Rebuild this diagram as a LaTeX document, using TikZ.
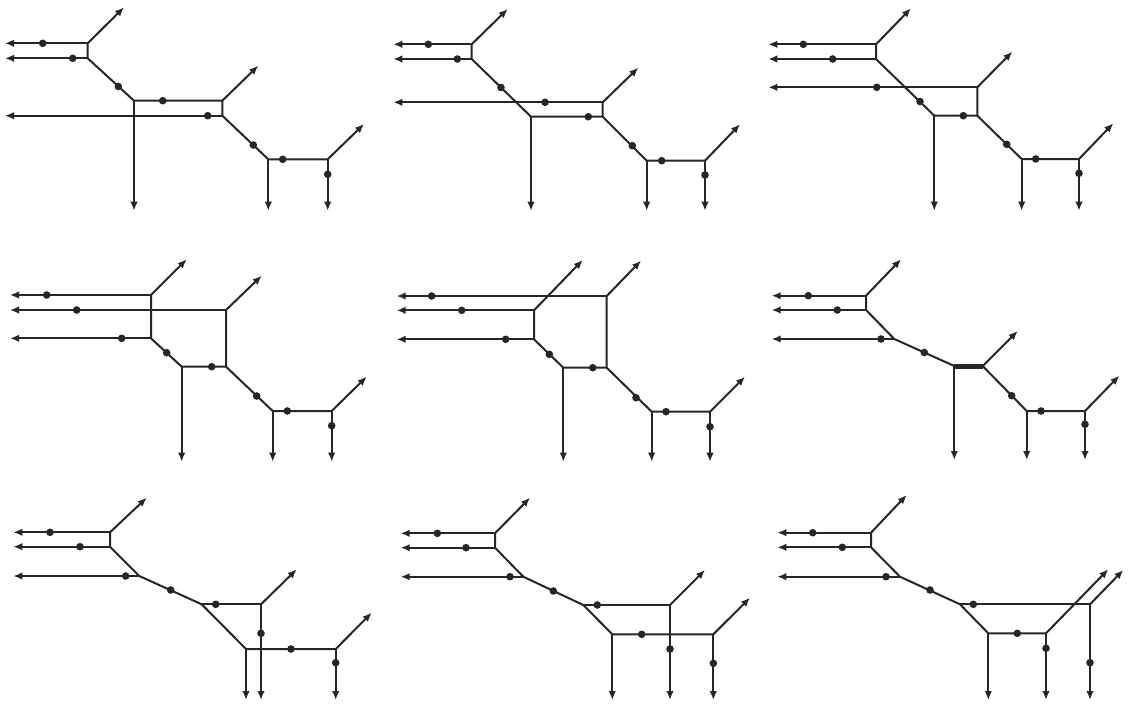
\documentclass[tikz,border=0pt]{standalone}
\usetikzlibrary{arrows.meta}
\begin{document}
\begin{tikzpicture}[x=1pt,y=-1pt,
  ln/.style={line width=2pt,draw=black!85,line join=miter},
  ar/.style={ln,-{Latex[length=9pt,width=7.5pt]}},
  dt/.style={circle,fill=black!85,inner sep=0pt,minimum size=7.6pt},
  thk/.style={line width=5pt,draw=black!85}]
\useasboundingbox[fill=white] (0,0) rectangle (1132,705);

% ---------- diagram 1 ----------
\begin{scope}[name prefix=a-]
\coordinate (A1) at (87.7,43.3); \coordinate (A2) at (87.7,58.3);
\coordinate (L1) at (5,43.3); \coordinate (L2) at (5,58.3); \coordinate (L3) at (5,115.7);
\coordinate (U1) at (124,7.3);
\coordinate (B) at (134,100.7); \coordinate (R1) at (222.3,100.7); \coordinate (R2) at (222.3,115.7);
\coordinate (D1) at (134,210.7); \coordinate (U2) at (258.3,65.7);
\coordinate (C) at (268.3,159.3); \coordinate (E) at (327.7,159.3);
\coordinate (D2) at (268.3,210.7); \coordinate (D3) at (327.7,210.7); \coordinate (U3) at (364,124);
\draw[ln] (A1) -- (A2) -- (B) -- (R1) -- (R2) -- (C) -- (E);
\draw[ar] (A1) -- (L1); \draw[ar] (A2) -- (L2); \draw[ar] (A1) -- (U1);
\draw[ar] (R2) -- (L3); \draw[ar] (B) -- (D1); \draw[ar] (R1) -- (U2);
\draw[ar] (C) -- (D2); \draw[ar] (E) -- (D3); \draw[ar] (E) -- (U3);
\node[dt] (p1) at (42.7,43.3) {}; \node[dt] (p2) at (72.7,58.3) {};
\node[dt] (p3) at (118.3,86.5) {}; \node[dt] (p4) at (162.7,100.7) {};
\node[dt] (p5) at (207.7,115.7) {}; \node[dt] (p6) at (253.3,145) {};
\node[dt] (p7) at (282.7,159.3) {}; \node[dt] (p8) at (327.7,174.3) {};
\end{scope}

% ---------- diagram 2 ----------
\begin{scope}[name prefix=b-]
\coordinate (A1) at (471.7,44.3); \coordinate (A2) at (471.7,59);
\coordinate (L1) at (393.3,44.3); \coordinate (L2) at (393.3,59); \coordinate (L3) at (393.3,102.3);
\coordinate (U1) at (507.7,9);
\coordinate (B) at (531,116.7); \coordinate (R1) at (602.7,102.3); \coordinate (R2) at (602.7,116.7);
\coordinate (D1) at (531,210.7); \coordinate (U2) at (638.3,67.7);
\coordinate (C) at (646.7,160.7); \coordinate (E) at (705,160.7);
\coordinate (D2) at (646.7,210.7); \coordinate (D3) at (705,210.7); \coordinate (U3) at (740,124.3);
\draw[ln] (A1) -- (A2) -- (B) -- (R2) -- (R1);
\draw[ln] (R2) -- (C) -- (E);
\draw[ar] (A1) -- (L1); \draw[ar] (A2) -- (L2); \draw[ar] (A1) -- (U1);
\draw[ar] (R1) -- (L3); \draw[ar] (B) -- (D1); \draw[ar] (R1) -- (U2);
\draw[ar] (C) -- (D2); \draw[ar] (E) -- (D3); \draw[ar] (E) -- (U3);
\node[dt] (p1) at (428.3,44.3) {}; \node[dt] (p2) at (457.3,59) {};
\node[dt] (p3) at (501,87.5) {}; \node[dt] (p4) at (545,102.3) {};
\node[dt] (p5) at (588.3,116.7) {}; \node[dt] (p6) at (632.3,145.7) {};
\node[dt] (p7) at (661.7,160.7) {}; \node[dt] (p8) at (705,175) {};
\end{scope}

% ---------- diagram 3 ----------
\begin{scope}[name prefix=c-]
\coordinate (A1) at (876,44.3); \coordinate (A2) at (876,59);
\coordinate (L1) at (768.3,44.3); \coordinate (L2) at (768.3,59); \coordinate (L3) at (768.3,87.3);
\coordinate (U1) at (911,8.3);
\coordinate (B) at (934.3,115.7); \coordinate (R1) at (977.3,87.3); \coordinate (R2) at (977.3,115.7);
\coordinate (D1) at (934.3,210.7); \coordinate (U2) at (1012.3,51.7);
\coordinate (C) at (1021.7,159); \coordinate (E) at (1079,159);
\coordinate (D2) at (1021.7,210.7); \coordinate (D3) at (1079,210.7); \coordinate (U3) at (1113.3,123.3);
\draw[ln] (A1) -- (A2) -- (B) -- (R2) -- (R1);
\draw[ln] (R2) -- (C) -- (E);
\draw[ar] (A1) -- (L1); \draw[ar] (A2) -- (L2); \draw[ar] (A1) -- (U1);
\draw[ar] (R1) -- (L3); \draw[ar] (B) -- (D1); \draw[ar] (R1) -- (U2);
\draw[ar] (C) -- (D2); \draw[ar] (E) -- (D3); \draw[ar] (E) -- (U3);
\node[dt] (p1) at (803.3,44.3) {}; \node[dt] (p2) at (832.7,59) {};
\node[dt] (p3) at (876.7,87.3) {}; \node[dt] (p4) at (920,101.5) {};
\node[dt] (p5) at (963.3,115.7) {}; \node[dt] (p6) at (1006.7,144.3) {};
\node[dt] (p7) at (1035.7,159) {}; \node[dt] (p8) at (1079,173.3) {};
\end{scope}

% ---------- diagram 4 ----------
\begin{scope}[name prefix=d-]
\coordinate (L1) at (10,295); \coordinate (L2) at (10,310); \coordinate (L3) at (10,338.3);
\coordinate (A1) at (151,295); \coordinate (A2) at (151,338.3); \coordinate (B) at (226,310);
\coordinate (U1) at (186.7,259.3); \coordinate (U2) at (261.7,275.7);
\coordinate (F) at (181.7,366.7); \coordinate (G) at (226,366.7);
\coordinate (D1) at (181.7,461.7);
\coordinate (C) at (272.7,411); \coordinate (E) at (331.7,411);
\coordinate (D2) at (272.7,461.7); \coordinate (D3) at (331.7,461.7); \coordinate (U3) at (366.7,376.7);
\draw[ln] (A1) -- (A2) -- (F) -- (G) -- (B);
\draw[ln] (G) -- (C) -- (E);
\draw[ar] (A1) -- (L1); \draw[ar] (B) -- (L2); \draw[ar] (A2) -- (L3);
\draw[ar] (A1) -- (U1); \draw[ar] (B) -- (U2); \draw[ar] (F) -- (D1);
\draw[ar] (C) -- (D2); \draw[ar] (E) -- (D3); \draw[ar] (E) -- (U3);
\node[dt] (p1) at (46.7,295) {}; \node[dt] (p2) at (76.7,310) {};
\node[dt] (p3) at (121.7,338.3) {}; \node[dt] (p4) at (166.7,352.7) {};
\node[dt] (p5) at (211.7,366.7) {}; \node[dt] (p6) at (256.7,396) {};
\node[dt] (p7) at (287.3,411) {}; \node[dt] (p8) at (331.7,425.7) {};
\end{scope}

% ---------- diagram 5 ----------
\begin{scope}[name prefix=e-]
\coordinate (L1) at (396.7,296); \coordinate (L2) at (396.7,310.3); \coordinate (L3) at (396.7,339.3);
\coordinate (A1) at (534,310.3); \coordinate (A2) at (534,339.3); \coordinate (B) at (606.7,296);
\coordinate (U1) at (582.7,260); \coordinate (U2) at (641,260.7);
\coordinate (F) at (563.3,367.7); \coordinate (G) at (606.7,367.7);
\coordinate (D1) at (563.3,461.7);
\coordinate (C) at (651.7,411.7); \coordinate (E) at (710,411.7);
\coordinate (D2) at (651.7,461.7); \coordinate (D3) at (710,461.7); \coordinate (U3) at (745,376.7);
\draw[ln] (A1) -- (A2) -- (F) -- (G) -- (B);
\draw[ln] (G) -- (C) -- (E);
\draw[ar] (B) -- (L1); \draw[ar] (A1) -- (L2); \draw[ar] (A2) -- (L3);
\draw[ar] (A1) -- (U1); \draw[ar] (B) -- (U2); \draw[ar] (F) -- (D1);
\draw[ar] (C) -- (D2); \draw[ar] (E) -- (D3); \draw[ar] (E) -- (U3);
\node[dt] (p1) at (431.7,296) {}; \node[dt] (p2) at (461.7,310.3) {};
\node[dt] (p3) at (505.7,339.3) {}; \node[dt] (p4) at (549.3,354.3) {};
\node[dt] (p5) at (592.7,367.7) {}; \node[dt] (p6) at (636,397.7) {};
\node[dt] (p7) at (666,411.7) {}; \node[dt] (p8) at (710,426.7) {};
\end{scope}

% ---------- diagram 6 ----------
\begin{scope}[name prefix=f-]
\coordinate (L1) at (771.7,295.7); \coordinate (L2) at (771.7,310); \coordinate (L3) at (771.7,339);
\coordinate (A1) at (866,295.7); \coordinate (A2) at (866,310); \coordinate (C) at (894.3,339);
\coordinate (U1) at (901,259.3);
\coordinate (F) at (954.3,366); \coordinate (G) at (982.7,366);
\coordinate (D1) at (954.3,460); \coordinate (U2) at (1017.7,331);
\coordinate (H) at (1026.7,411); \coordinate (E) at (1085,411);
\coordinate (D2) at (1026.7,460); \coordinate (D3) at (1085,460); \coordinate (U3) at (1119.3,375.7);
\draw[ln] (A1) -- (A2) -- (C) -- (F);
\draw[thk] (F) -- (G);
\draw[ln] (G) -- (H) -- (E);
\draw[ar] (A1) -- (L1); \draw[ar] (A2) -- (L2); \draw[ar] (C) -- (L3);
\draw[ar] (A1) -- (U1); \draw[ar] (F) -- (D1); \draw[ar] (G) -- (U2);
\draw[ar] (H) -- (D2); \draw[ar] (E) -- (D3); \draw[ar] (E) -- (U3);
\node[dt] (p1) at (808.3,295.7) {}; \node[dt] (p2) at (837.3,310) {};
\node[dt] (p3) at (881,339) {}; \node[dt] (p4) at (924.3,352.5) {};
\node[dt] (p6) at (1011.7,395.7) {};
\node[dt] (p7) at (1041,411) {}; \node[dt] (p8) at (1085,424.3) {};
\end{scope}

% ---------- diagram 7 ----------
\begin{scope}[name prefix=g-]
\coordinate (L1) at (13.3,532.3); \coordinate (L2) at (13.3,546.7); \coordinate (L3) at (13.3,576);
\coordinate (A1) at (110,532.3); \coordinate (A2) at (110,546.7); \coordinate (C) at (139.3,576);
\coordinate (U1) at (146.7,497.7);
\coordinate (F) at (201.7,604.3); \coordinate (G) at (261,604.3);
\coordinate (H) at (246,649); \coordinate (E) at (335.7,649);
\coordinate (U2) at (296.7,569.3); \coordinate (D1) at (246,700); \coordinate (D2) at (261,700);
\coordinate (D3) at (335.7,700); \coordinate (U3) at (371.7,612.7);
\draw[ln] (A1) -- (A2) -- (C) -- (F) -- (H) -- (E);
\draw[ln] (F) -- (G);
\draw[ar] (A1) -- (L1); \draw[ar] (A2) -- (L2); \draw[ar] (C) -- (L3);
\draw[ar] (A1) -- (U1); \draw[ar] (G) -- (U2); \draw[ar] (G) -- (D2);
\draw[ar] (H) -- (D1); \draw[ar] (E) -- (D3); \draw[ar] (E) -- (U3);
\node[dt] (p1) at (50,532.3) {}; \node[dt] (p2) at (80,546.7) {};
\node[dt] (p3) at (125.7,576) {}; \node[dt] (p4) at (170.7,590) {};
\node[dt] (p5) at (215.7,604.3) {}; \node[dt] (p6) at (261,633.3) {};
\node[dt] (p7) at (291,649) {}; \node[dt] (p8) at (335.7,662.7) {};
\end{scope}

% ---------- diagram 8 ----------
\begin{scope}[name prefix=h-]
\coordinate (L1) at (400.7,533.3); \coordinate (L2) at (400.7,547.7); \coordinate (L3) at (400.7,576.7);
\coordinate (A1) at (495,533.3); \coordinate (A2) at (495,547.7); \coordinate (C) at (523.3,576.7);
\coordinate (U1) at (530,497.7);
\coordinate (F) at (583.3,605); \coordinate (G) at (670,605);
\coordinate (H) at (612.3,634.3); \coordinate (E) at (713.3,634.3);
\coordinate (U2) at (705,570); \coordinate (D1) at (612.3,700); \coordinate (D2) at (670,700);
\coordinate (D3) at (713.3,700); \coordinate (U3) at (750,597.7);
\draw[ln] (A1) -- (A2) -- (C) -- (F) -- (H) -- (E);
\draw[ln] (F) -- (G);
\draw[ar] (A1) -- (L1); \draw[ar] (A2) -- (L2); \draw[ar] (C) -- (L3);
\draw[ar] (A1) -- (U1); \draw[ar] (G) -- (U2); \draw[ar] (G) -- (D2);
\draw[ar] (H) -- (D1); \draw[ar] (E) -- (D3); \draw[ar] (E) -- (U3);
\node[dt] (p1) at (437.3,533.3) {}; \node[dt] (p2) at (466,547.7) {};
\node[dt] (p3) at (510,576.7) {}; \node[dt] (p4) at (553.3,591) {};
\node[dt] (p5) at (597.3,605) {}; \node[dt] (p6) at (641.7,634.3) {};
\node[dt] (p7) at (670,649) {}; \node[dt] (p8) at (713.3,663.3) {};
\end{scope}

% ---------- diagram 9 ----------
\begin{scope}[name prefix=i-]
\coordinate (L1) at (777.3,532.7); \coordinate (L2) at (777.3,547.3); \coordinate (L3) at (777.3,576.7);
\coordinate (A1) at (871,532.7); \coordinate (A2) at (871,547.3); \coordinate (C) at (900,576.7);
\coordinate (U1) at (906.7,495);
\coordinate (F) at (960,604.3); \coordinate (G) at (1090,604.3);
\coordinate (H) at (988.3,633.3); \coordinate (K) at (1046,633.3);
\coordinate (U2) at (1108.3,569.3); \coordinate (U3) at (1123.3,570);
\coordinate (D1) at (988.3,700); \coordinate (D2) at (1046,700); \coordinate (D3) at (1090,700);
\draw[ln] (A1) -- (A2) -- (C) -- (F) -- (H) -- (K);
\draw[ln] (F) -- (G);
\draw[ar] (A1) -- (L1); \draw[ar] (A2) -- (L2); \draw[ar] (C) -- (L3);
\draw[ar] (A1) -- (U1); \draw[ar] (K) -- (U2); \draw[ar] (G) -- (U3);
\draw[ar] (H) -- (D1); \draw[ar] (K) -- (D2); \draw[ar] (G) -- (D3);
\node[dt] (p1) at (812.7,532.7) {}; \node[dt] (p2) at (842.3,547.3) {};
\node[dt] (p3) at (886,576.7) {}; \node[dt] (p4) at (930,590) {};
\node[dt] (p5) at (973.3,604.3) {}; \node[dt] (p6) at (1017.3,633.3) {};
\node[dt] (p7) at (1046,648.3) {}; \node[dt] (p8) at (1090,662.7) {};
\end{scope}
\end{tikzpicture}
\end{document}
